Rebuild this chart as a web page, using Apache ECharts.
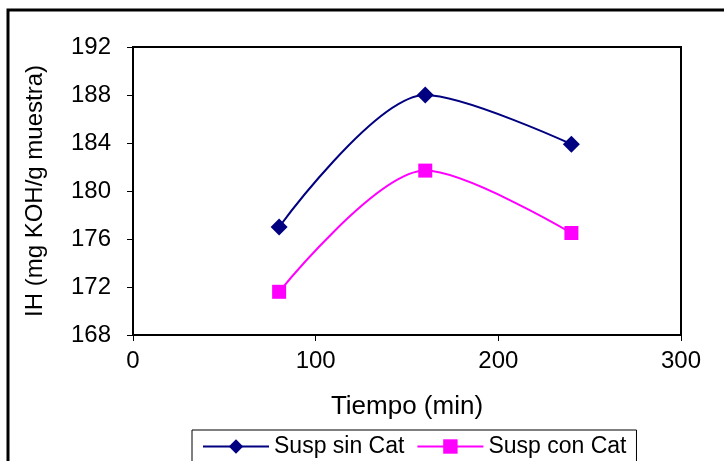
<!DOCTYPE html>
<html>
<head>
<meta charset="utf-8">
<script src="https://cdn.jsdelivr.net/npm/echarts@6/dist/echarts.min.js"></script>
<style>
  html, body { margin: 0; padding: 0; background: #fff; }
  #chart { width: 724px; height: 461px; }
</style>
</head>
<body>
<div id="chart"></div>
<script>
// Time points (min) and hydroxyl index values for each suspension
const tiempo = [80, 160, 240];
const suspSinCat = [177.0, 188.0, 183.9];
const suspConCat = [171.6, 181.7, 176.5];
const seriesNames = ['Susp sin Cat', 'Susp con Cat'];

const FONT = '"Liberation Sans", Arial, sans-serif';

const chart = echarts.init(document.getElementById('chart'), null, { renderer: 'canvas' });

const toPairs = (ys) => tiempo.map((x, i) => [x, ys[i]]);

chart.setOption({
  animation: false,
  backgroundColor: '#fff',
  grid: {
    left: 133, right: 43, top: 47, bottom: 126,
    show: true, borderColor: '#000', borderWidth: 2, backgroundColor: 'transparent'
  },
  xAxis: {
    type: 'value', min: 0, max: 300, interval: 100,
    name: 'Tiempo (min)', nameLocation: 'middle', nameGap: 59,
    nameTextStyle: { fontFamily: FONT, fontSize: 26, color: '#000' },
    axisLine: { show: true, lineStyle: { color: '#000', width: 2 } },
    axisTick: { show: true, inside: false, length: 6, lineStyle: { color: '#000', width: 1 } },
    axisLabel: { fontFamily: FONT, fontSize: 24, color: '#000', margin: 14 },
    splitLine: { show: false }
  },
  yAxis: {
    type: 'value', min: 168, max: 192, interval: 4,
    name: 'IH (mg KOH/g muestra)', nameLocation: 'middle', nameGap: 86,
    nameTextStyle: { fontFamily: FONT, fontSize: 24, color: '#000' },
    axisLine: { show: true, lineStyle: { color: '#000', width: 2 } },
    axisTick: { show: true, inside: false, length: 6, lineStyle: { color: '#000', width: 1 } },
    axisLabel: { fontFamily: FONT, fontSize: 24, color: '#000', margin: 22 },
    splitLine: { show: false }
  },
  legend: {
    left: 192, top: 430,
    padding: [5, 10, 12, 10],
    borderColor: '#000', borderWidth: 1,
    itemWidth: 66, itemHeight: 18, itemGap: 12,
    textStyle: { fontFamily: FONT, fontSize: 23, color: '#000' },
    data: seriesNames
  },
  graphic: [{
    type: 'rect',
    shape: { x: 8, y: 10, width: 760, height: 500 },
    style: { fill: 'none', stroke: '#000', lineWidth: 3 },
    silent: true, z: 100
  }],
  series: [
    {
      name: seriesNames[0], type: 'line', smooth: 0.3,
      data: toPairs(suspSinCat),
      symbol: 'diamond', symbolSize: 17,
      lineStyle: { color: '#000080', width: 2 },
      itemStyle: { color: '#000080' }
    },
    {
      name: seriesNames[1], type: 'line', smooth: 0.3,
      data: toPairs(suspConCat),
      symbol: 'rect', symbolSize: 14,
      lineStyle: { color: '#FF00FF', width: 2 },
      itemStyle: { color: '#FF00FF' }
    }
  ]
});
</script>
</body>
</html>
